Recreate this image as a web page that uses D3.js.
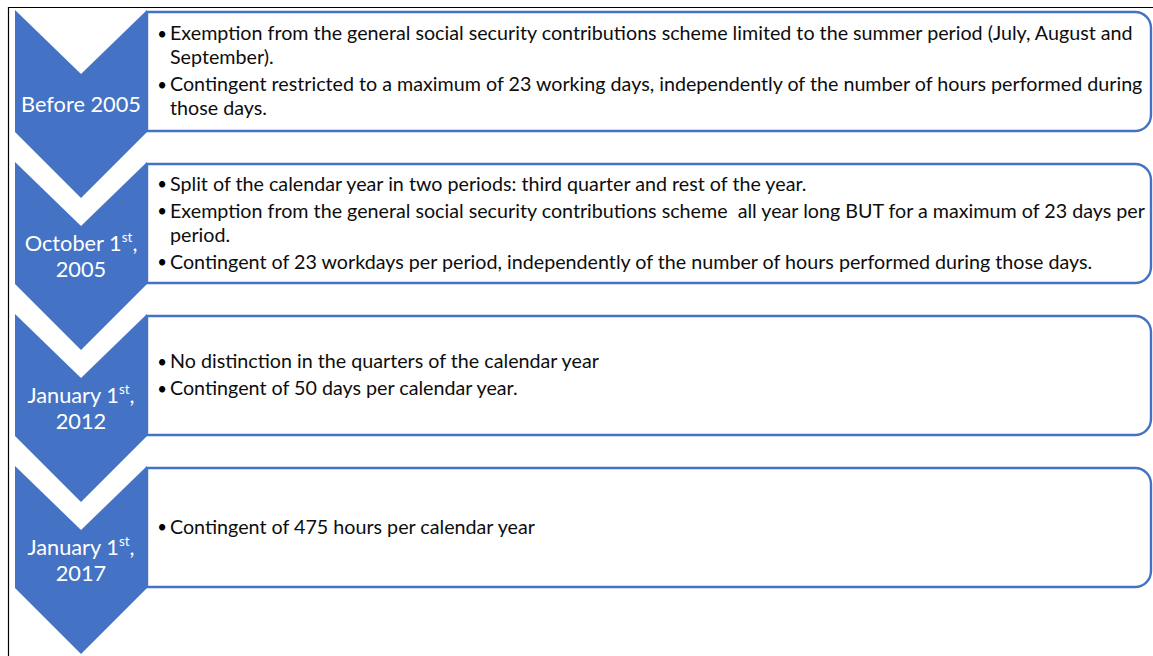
<!DOCTYPE html>
<html><head><meta charset="utf-8">
<script src="https://cdn.jsdelivr.net/npm/d3@7"></script>
<style>html,body{margin:0;padding:0;background:#fff;} svg{display:block;} text{white-space:pre;}</style>
</head><body>
<script>
// ---- data ----
const periods = ["Before 2005", "October 1^st^, 2005", "January 1^st^, 2012", "January 1^st^, 2017"];
const periodLabelLines = [
  ["Before 2005"],
  ["October 1^st^,", "2005"],
  ["January 1^st^,", "2012"],
  ["January 1^st^,", "2017"]
];
const bullets0 = [
  ["Exemption from the general social security contributions scheme limited to the summer period (July, August and", "September)."],
  ["Contingent restricted to a maximum of 23 working days, independently of the number of hours performed during", "those days."]
];
const bullets1 = [
  ["Split of the calendar year in two periods: third quarter and rest of the year."],
  ["Exemption from the general social security contributions scheme  all year long BUT for a maximum of 23 days per", "period."],
  ["Contingent of 23 workdays per period, independently of the number of hours performed during those days."]
];
const bullets2 = [
  ["No distinction in the quarters of the calendar year"],
  ["Contingent of 50 days per calendar year."]
];
const bullets3 = [
  ["Contingent of 475 hours per calendar year"]
];
const bulletsByPeriod = [bullets0, bullets1, bullets2, bullets3];

// ---- layout ----
const W = 1153, H = 656;
const BLUE = "#4472C4";
const FONT = "Lato, 'Open Sans', 'Noto Sans', sans-serif";
const svg = d3.select("body").append("svg").attr("width", W).attr("height", H);

// frame
svg.append("path").attr("d", `M8.5,${H} V7.5 H${W}`).attr("fill", "none").attr("stroke", "#000").attr("stroke-width", 1.2);

const rowY = d3.scaleLinear().domain([0, 1]).range([10, 162]);
const chevX = d3.scaleLinear().domain([0, 1]).range([15, 147]);
const boxX = d3.scaleLinear().domain([0, 1]).range([147, 1152]);
const bodyH = 122; // straight part of chevron
const halfW = (chevX(1) - chevX(0)) / 2;

// font fitting
function measure(str, size) {
  const t = svg.append("text").attr("font-family", FONT).attr("font-size", size).text(str);
  const w = t.node().getComputedTextLength(); t.remove(); return w;
}
const bodySize = 18 * 963 / measure(bullets0[0][0], 18);
const labelSize = 20 * 120 / measure("Before 2005", 20);

const rows = svg.selectAll("g.row").data(periods).join("g").attr("class", "row");

// boxes
rows.append("path").attr("fill", "#fff").attr("stroke", BLUE).attr("stroke-width", 2.4)
  .attr("d", (d, i) => {
    const top = rowY(i) + 2, bot = rowY(i) + bodyH - 1, x0 = boxX(0), x1 = boxX(1) - 1, r = 16;
    return `M${x0},${top} H${x1 - r} A${r},${r} 0 0 1 ${x1},${top + r} V${bot - r} A${r},${r} 0 0 1 ${x1 - r},${bot} H${x0} Z`;
  });

// chevrons
rows.append("path").attr("fill", BLUE)
  .attr("d", (d, i) => {
    const top = rowY(i), bot = top + bodyH, x0 = chevX(0), x1 = chevX(1), cx = (x0 + x1) / 2;
    return `M${x0},${top} L${cx},${top + halfW - 2} L${x1},${top} V${bot} L${cx},${bot + halfW} L${x0},${bot} Z`;
  });

// chevron labels
rows.each(function (d, i) {
  const g = d3.select(this);
  const lines = periodLabelLines[i];
  const top = rowY(i);
  const cy = (top + halfW + top + bodyH) / 2;
  const lh = 26;
  lines.forEach((ln, k) => {
    const y = cy + (k - (lines.length - 1) / 2) * lh + labelSize * 0.35;
    const t = g.append("text").attr("x", (chevX(0) + chevX(1)) / 2 + (ln.includes("^") ? 0 : 0)).attr("y", y)
      .attr("text-anchor", "middle").attr("font-family", FONT).attr("font-size", labelSize).attr("fill", "#fff");
    const parts = ln.split("^");
    parts.forEach((p, j) => {
      if (!p) return;
      if (j % 2 === 1) {
        t.append("tspan").attr("font-size", labelSize * 0.62).attr("dy", -labelSize * 0.38).text(p);
      } else {
        const ts = t.append("tspan").text(p);
        if (j > 0) ts.attr("dy", labelSize * 0.38);
      }
    });
  });
});

// bullet texts
const lineH = 24, paraGap = 3;
rows.each(function (d, i) {
  const g = d3.select(this);
  const paras = bulletsByPeriod[i];
  const nLines = d3.sum(paras, p => p.length);
  const blockH = (nLines - 1) * lineH + (paras.length - 1) * paraGap;
  const top = rowY(i) + 2, bot = rowY(i) + bodyH - 1;
  let y = (top + bot) / 2 - blockH / 2;
  paras.forEach((p) => {
    g.append("text").attr("x", 162).attr("y", y + bodySize * 0.3).attr("text-anchor", "middle").attr("font-family", FONT)
      .attr("font-size", bodySize * 0.85).attr("fill", "#000").text("\u2022");
    p.forEach((ln) => {
      g.append("text").attr("x", 170).attr("y", y + bodySize * 0.33).attr("font-family", FONT)
        .attr("font-size", bodySize).attr("fill", "#0d0d0d").text(ln);
      y += lineH;
    });
    y += paraGap;
  });
});
</script>
</body></html>
